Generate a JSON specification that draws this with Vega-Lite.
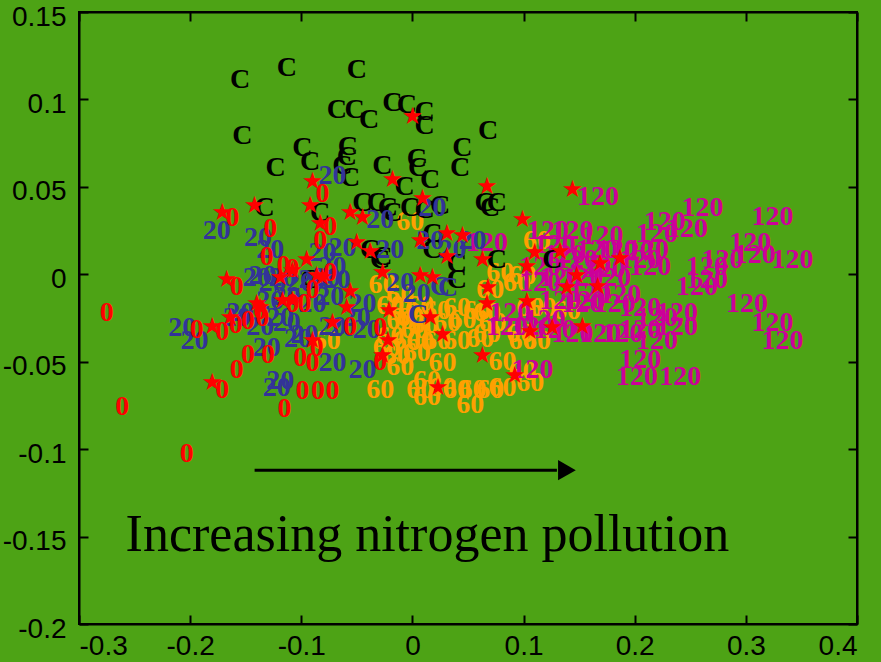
{
  "$schema": "https://vega.github.io/schema/vega-lite/v6.json",
  "width": 778,
  "height": 612,
  "autosize": "none",
  "padding": {"left": 79, "top": 12, "right": 24, "bottom": 38},
  "background": "#4da315",
  "config": {
    "view": {"stroke": "black", "strokeWidth": 2},
    "axis": {"domainColor": "black", "domainWidth": 2, "tickColor": "black", "tickWidth": 2, "tickSize": -9, "grid": false, "labelFont": "Liberation Sans", "labelFontSize": 28, "labelColor": "black", "title": null}
  },
  "data": {"values": [
      {"k": "t", "x": -0.002, "y": 0.030, "label": "60", "g": "60"},
      {"k": "t", "x": 0.112, "y": 0.019, "label": "60", "g": "60"},
      {"k": "t", "x": 0.099, "y": -0.001, "label": "60", "g": "60"},
      {"k": "t", "x": -0.027, "y": -0.006, "label": "60", "g": "60"},
      {"k": "t", "x": -0.011, "y": -0.012, "label": "60", "g": "60"},
      {"k": "t", "x": -0.020, "y": -0.018, "label": "60", "g": "60"},
      {"k": "t", "x": -0.007, "y": -0.021, "label": "60", "g": "60"},
      {"k": "t", "x": 0.007, "y": -0.018, "label": "60", "g": "60"},
      {"k": "t", "x": 0.022, "y": -0.021, "label": "60", "g": "60"},
      {"k": "t", "x": 0.031, "y": -0.028, "label": "60", "g": "60"},
      {"k": "t", "x": 0.040, "y": -0.019, "label": "60", "g": "60"},
      {"k": "t", "x": 0.058, "y": -0.021, "label": "60", "g": "60"},
      {"k": "t", "x": 0.045, "y": -0.026, "label": "60", "g": "60"},
      {"k": "t", "x": -0.020, "y": -0.036, "label": "60", "g": "60"},
      {"k": "t", "x": -0.005, "y": -0.038, "label": "60", "g": "60"},
      {"k": "t", "x": 0.007, "y": -0.039, "label": "60", "g": "60"},
      {"k": "t", "x": 0.022, "y": -0.038, "label": "60", "g": "60"},
      {"k": "t", "x": 0.040, "y": -0.038, "label": "60", "g": "60"},
      {"k": "t", "x": 0.061, "y": -0.037, "label": "60", "g": "60"},
      {"k": "t", "x": 0.004, "y": -0.045, "label": "60", "g": "60"},
      {"k": "t", "x": -0.014, "y": -0.047, "label": "60", "g": "60"},
      {"k": "t", "x": -0.023, "y": -0.042, "label": "60", "g": "60"},
      {"k": "t", "x": 0.027, "y": -0.051, "label": "60", "g": "60"},
      {"k": "t", "x": -0.011, "y": -0.053, "label": "60", "g": "60"},
      {"k": "t", "x": 0.013, "y": -0.061, "label": "60", "g": "60"},
      {"k": "t", "x": 0.027, "y": -0.065, "label": "60", "g": "60"},
      {"k": "t", "x": 0.040, "y": -0.066, "label": "60", "g": "60"},
      {"k": "t", "x": 0.054, "y": -0.066, "label": "60", "g": "60"},
      {"k": "t", "x": 0.070, "y": -0.066, "label": "60", "g": "60"},
      {"k": "t", "x": 0.007, "y": -0.066, "label": "60", "g": "60"},
      {"k": "t", "x": 0.013, "y": -0.070, "label": "60", "g": "60"},
      {"k": "t", "x": 0.052, "y": -0.075, "label": "60", "g": "60"},
      {"k": "t", "x": 0.081, "y": -0.050, "label": "60", "g": "60"},
      {"k": "t", "x": 0.099, "y": -0.056, "label": "60", "g": "60"},
      {"k": "t", "x": 0.106, "y": -0.062, "label": "60", "g": "60"},
      {"k": "t", "x": -0.029, "y": -0.066, "label": "60", "g": "60"},
      {"k": "t", "x": -0.077, "y": -0.038, "label": "60", "g": "60"},
      {"k": "t", "x": 0.067, "y": -0.022, "label": "60", "g": "60"},
      {"k": "t", "x": 0.072, "y": -0.028, "label": "60", "g": "60"},
      {"k": "t", "x": 0.067, "y": -0.034, "label": "60", "g": "60"},
      {"k": "t", "x": 0.106, "y": -0.019, "label": "60", "g": "60"},
      {"k": "t", "x": 0.117, "y": -0.019, "label": "60", "g": "60"},
      {"k": "t", "x": 0.139, "y": -0.021, "label": "60", "g": "60"},
      {"k": "t", "x": 0.099, "y": -0.038, "label": "60", "g": "60"},
      {"k": "t", "x": 0.112, "y": -0.038, "label": "60", "g": "60"},
      {"k": "t", "x": 0.081, "y": -0.065, "label": "60", "g": "60"},
      {"k": "t", "x": 0.094, "y": -0.005, "label": "60", "g": "60"},
      {"k": "t", "x": 0.097, "y": -0.034, "label": "60", "g": "60"},
      {"k": "t", "x": 0.079, "y": 0.001, "label": "60", "g": "60"},
      {"k": "t", "x": 0.070, "y": -0.009, "label": "60", "g": "60"},
      {"k": "t", "x": -0.002, "y": -0.025, "label": "60", "g": "60"},
      {"k": "t", "x": 0.011, "y": -0.029, "label": "60", "g": "60"},
      {"k": "t", "x": 0.002, "y": -0.032, "label": "60", "g": "60"},
      {"k": "t", "x": -0.011, "y": -0.027, "label": "60", "g": "60"},
      {"k": "t", "x": 0.167, "y": 0.044, "label": "120", "g": "120"},
      {"k": "t", "x": 0.261, "y": 0.038, "label": "120", "g": "120"},
      {"k": "t", "x": 0.324, "y": 0.033, "label": "120", "g": "120"},
      {"k": "t", "x": 0.227, "y": 0.030, "label": "120", "g": "120"},
      {"k": "t", "x": 0.247, "y": 0.026, "label": "120", "g": "120"},
      {"k": "t", "x": 0.122, "y": 0.025, "label": "120", "g": "120"},
      {"k": "t", "x": 0.144, "y": 0.025, "label": "120", "g": "120"},
      {"k": "t", "x": 0.171, "y": 0.022, "label": "120", "g": "120"},
      {"k": "t", "x": 0.220, "y": 0.023, "label": "120", "g": "120"},
      {"k": "t", "x": 0.304, "y": 0.018, "label": "120", "g": "120"},
      {"k": "t", "x": 0.212, "y": 0.014, "label": "120", "g": "120"},
      {"k": "t", "x": 0.198, "y": 0.013, "label": "120", "g": "120"},
      {"k": "t", "x": 0.279, "y": 0.008, "label": "120", "g": "120"},
      {"k": "t", "x": 0.308, "y": 0.011, "label": "120", "g": "120"},
      {"k": "t", "x": 0.342, "y": 0.008, "label": "120", "g": "120"},
      {"k": "t", "x": 0.214, "y": 0.004, "label": "120", "g": "120"},
      {"k": "t", "x": 0.148, "y": 0.008, "label": "120", "g": "120"},
      {"k": "t", "x": 0.166, "y": 0.014, "label": "120", "g": "120"},
      {"k": "t", "x": 0.184, "y": 0.014, "label": "120", "g": "120"},
      {"k": "t", "x": 0.265, "y": 0.004, "label": "120", "g": "120"},
      {"k": "t", "x": 0.205, "y": 0.008, "label": "120", "g": "120"},
      {"k": "t", "x": 0.178, "y": -0.002, "label": "120", "g": "120"},
      {"k": "t", "x": 0.153, "y": -0.002, "label": "120", "g": "120"},
      {"k": "t", "x": 0.133, "y": -0.002, "label": "120", "g": "120"},
      {"k": "t", "x": 0.115, "y": 0.004, "label": "120", "g": "120"},
      {"k": "t", "x": 0.265, "y": -0.003, "label": "120", "g": "120"},
      {"k": "t", "x": 0.256, "y": -0.007, "label": "120", "g": "120"},
      {"k": "t", "x": 0.301, "y": -0.017, "label": "120", "g": "120"},
      {"k": "t", "x": 0.115, "y": -0.005, "label": "120", "g": "120"},
      {"k": "t", "x": 0.160, "y": -0.011, "label": "120", "g": "120"},
      {"k": "t", "x": 0.153, "y": -0.017, "label": "120", "g": "120"},
      {"k": "t", "x": 0.182, "y": -0.017, "label": "120", "g": "120"},
      {"k": "t", "x": 0.205, "y": -0.019, "label": "120", "g": "120"},
      {"k": "t", "x": 0.238, "y": -0.022, "label": "120", "g": "120"},
      {"k": "t", "x": 0.220, "y": -0.025, "label": "120", "g": "120"},
      {"k": "t", "x": 0.238, "y": -0.030, "label": "120", "g": "120"},
      {"k": "t", "x": 0.205, "y": -0.032, "label": "120", "g": "120"},
      {"k": "t", "x": 0.169, "y": -0.034, "label": "120", "g": "120"},
      {"k": "t", "x": 0.189, "y": -0.034, "label": "120", "g": "120"},
      {"k": "t", "x": 0.144, "y": -0.034, "label": "120", "g": "120"},
      {"k": "t", "x": 0.220, "y": -0.038, "label": "120", "g": "120"},
      {"k": "t", "x": 0.324, "y": -0.028, "label": "120", "g": "120"},
      {"k": "t", "x": 0.333, "y": -0.038, "label": "120", "g": "120"},
      {"k": "t", "x": 0.085, "y": -0.030, "label": "120", "g": "120"},
      {"k": "t", "x": 0.108, "y": -0.030, "label": "120", "g": "120"},
      {"k": "t", "x": 0.205, "y": -0.049, "label": "120", "g": "120"},
      {"k": "t", "x": 0.202, "y": -0.059, "label": "120", "g": "120"},
      {"k": "t", "x": 0.241, "y": -0.059, "label": "120", "g": "120"},
      {"k": "t", "x": 0.108, "y": -0.055, "label": "120", "g": "120"},
      {"k": "t", "x": 0.128, "y": 0.017, "label": "120", "g": "120"},
      {"k": "t", "x": 0.137, "y": 0.011, "label": "120", "g": "120"},
      {"k": "t", "x": 0.160, "y": 0.005, "label": "120", "g": "120"},
      {"k": "t", "x": 0.173, "y": 0.003, "label": "120", "g": "120"},
      {"k": "t", "x": 0.155, "y": -0.015, "label": "120", "g": "120"},
      {"k": "t", "x": 0.133, "y": -0.015, "label": "120", "g": "120"},
      {"k": "t", "x": 0.187, "y": -0.012, "label": "120", "g": "120"},
      {"k": "t", "x": 0.119, "y": -0.026, "label": "120", "g": "120"},
      {"k": "t", "x": 0.128, "y": -0.032, "label": "120", "g": "120"},
      {"k": "t", "x": 0.067, "y": 0.018, "label": "120", "g": "120"},
      {"k": "t", "x": 0.088, "y": -0.022, "label": "120", "g": "120"},
      {"k": "t", "x": -0.155, "y": 0.111, "label": "C", "g": "C"},
      {"k": "t", "x": -0.113, "y": 0.118, "label": "C", "g": "C"},
      {"k": "t", "x": -0.050, "y": 0.117, "label": "C", "g": "C"},
      {"k": "t", "x": -0.153, "y": 0.079, "label": "C", "g": "C"},
      {"k": "t", "x": -0.068, "y": 0.094, "label": "C", "g": "C"},
      {"k": "t", "x": -0.052, "y": 0.094, "label": "C", "g": "C"},
      {"k": "t", "x": -0.039, "y": 0.088, "label": "C", "g": "C"},
      {"k": "t", "x": -0.018, "y": 0.098, "label": "C", "g": "C"},
      {"k": "t", "x": -0.005, "y": 0.097, "label": "C", "g": "C"},
      {"k": "t", "x": 0.011, "y": 0.093, "label": "C", "g": "C"},
      {"k": "t", "x": 0.011, "y": 0.085, "label": "C", "g": "C"},
      {"k": "t", "x": 0.068, "y": 0.082, "label": "C", "g": "C"},
      {"k": "t", "x": -0.099, "y": 0.072, "label": "C", "g": "C"},
      {"k": "t", "x": -0.092, "y": 0.064, "label": "C", "g": "C"},
      {"k": "t", "x": -0.123, "y": 0.061, "label": "C", "g": "C"},
      {"k": "t", "x": -0.058, "y": 0.073, "label": "C", "g": "C"},
      {"k": "t", "x": -0.059, "y": 0.067, "label": "C", "g": "C"},
      {"k": "t", "x": -0.063, "y": 0.062, "label": "C", "g": "C"},
      {"k": "t", "x": -0.056, "y": 0.055, "label": "C", "g": "C"},
      {"k": "t", "x": -0.027, "y": 0.062, "label": "C", "g": "C"},
      {"k": "t", "x": 0.004, "y": 0.066, "label": "C", "g": "C"},
      {"k": "t", "x": 0.005, "y": 0.061, "label": "C", "g": "C"},
      {"k": "t", "x": 0.016, "y": 0.054, "label": "C", "g": "C"},
      {"k": "t", "x": 0.045, "y": 0.072, "label": "C", "g": "C"},
      {"k": "t", "x": 0.043, "y": 0.061, "label": "C", "g": "C"},
      {"k": "t", "x": -0.007, "y": 0.050, "label": "C", "g": "C"},
      {"k": "t", "x": -0.045, "y": 0.041, "label": "C", "g": "C"},
      {"k": "t", "x": -0.032, "y": 0.041, "label": "C", "g": "C"},
      {"k": "t", "x": -0.022, "y": 0.038, "label": "C", "g": "C"},
      {"k": "t", "x": -0.018, "y": 0.035, "label": "C", "g": "C"},
      {"k": "t", "x": -0.002, "y": 0.038, "label": "C", "g": "C"},
      {"k": "t", "x": 0.011, "y": 0.037, "label": "C", "g": "C"},
      {"k": "t", "x": 0.025, "y": 0.039, "label": "C", "g": "C"},
      {"k": "t", "x": 0.065, "y": 0.041, "label": "C", "g": "C"},
      {"k": "t", "x": 0.070, "y": 0.038, "label": "C", "g": "C"},
      {"k": "t", "x": 0.076, "y": 0.041, "label": "C", "g": "C"},
      {"k": "t", "x": -0.133, "y": 0.038, "label": "C", "g": "C"},
      {"k": "t", "x": -0.083, "y": 0.035, "label": "C", "g": "C"},
      {"k": "t", "x": -0.038, "y": 0.014, "label": "C", "g": "C"},
      {"k": "t", "x": -0.027, "y": 0.010, "label": "C", "g": "C"},
      {"k": "t", "x": 0.018, "y": 0.023, "label": "C", "g": "C"},
      {"k": "t", "x": 0.018, "y": 0.014, "label": "C", "g": "C"},
      {"k": "t", "x": 0.040, "y": 0.006, "label": "C", "g": "C"},
      {"k": "t", "x": 0.040, "y": -0.003, "label": "C", "g": "C"},
      {"k": "t", "x": 0.076, "y": 0.008, "label": "C", "g": "C"},
      {"k": "t", "x": 0.126, "y": 0.008, "label": "C", "g": "C"},
      {"k": "t", "x": -0.092, "y": -0.003, "label": "C", "g": "C"},
      {"k": "t", "x": -0.029, "y": 0.008, "label": "C", "g": "C"},
      {"k": "t", "x": 0.005, "y": -0.023, "label": "C", "g": "20"},
      {"k": "t", "x": 0.025, "y": -0.007, "label": "C", "g": "20"},
      {"k": "t", "x": 0.032, "y": -0.008, "label": "C", "g": "20"},
      {"k": "t", "x": -0.176, "y": 0.025, "label": "20", "g": "20"},
      {"k": "t", "x": -0.139, "y": 0.021, "label": "20", "g": "20"},
      {"k": "t", "x": -0.128, "y": 0.014, "label": "20", "g": "20"},
      {"k": "t", "x": -0.072, "y": 0.056, "label": "20", "g": "20"},
      {"k": "t", "x": -0.135, "y": -0.001, "label": "20", "g": "20"},
      {"k": "t", "x": -0.126, "y": -0.005, "label": "20", "g": "20"},
      {"k": "t", "x": -0.140, "y": -0.002, "label": "20", "g": "20"},
      {"k": "t", "x": -0.117, "y": -0.002, "label": "20", "g": "20"},
      {"k": "t", "x": -0.101, "y": -0.005, "label": "20", "g": "20"},
      {"k": "t", "x": -0.090, "y": -0.003, "label": "20", "g": "20"},
      {"k": "t", "x": -0.077, "y": -0.002, "label": "20", "g": "20"},
      {"k": "t", "x": -0.068, "y": -0.003, "label": "20", "g": "20"},
      {"k": "t", "x": -0.128, "y": -0.015, "label": "20", "g": "20"},
      {"k": "t", "x": -0.113, "y": -0.013, "label": "20", "g": "20"},
      {"k": "t", "x": -0.090, "y": -0.017, "label": "20", "g": "20"},
      {"k": "t", "x": -0.074, "y": -0.013, "label": "20", "g": "20"},
      {"k": "t", "x": -0.158, "y": -0.025, "label": "20", "g": "20"},
      {"k": "t", "x": -0.137, "y": -0.030, "label": "20", "g": "20"},
      {"k": "t", "x": -0.119, "y": -0.025, "label": "20", "g": "20"},
      {"k": "t", "x": -0.113, "y": -0.028, "label": "20", "g": "20"},
      {"k": "t", "x": -0.207, "y": -0.031, "label": "20", "g": "20"},
      {"k": "t", "x": -0.196, "y": -0.038, "label": "20", "g": "20"},
      {"k": "t", "x": -0.131, "y": -0.042, "label": "20", "g": "20"},
      {"k": "t", "x": -0.119, "y": -0.061, "label": "20", "g": "20"},
      {"k": "t", "x": -0.122, "y": -0.065, "label": "20", "g": "20"},
      {"k": "t", "x": -0.097, "y": -0.035, "label": "20", "g": "20"},
      {"k": "t", "x": -0.072, "y": -0.051, "label": "20", "g": "20"},
      {"k": "t", "x": -0.081, "y": 0.012, "label": "20", "g": "20"},
      {"k": "t", "x": -0.072, "y": 0.004, "label": "20", "g": "20"},
      {"k": "t", "x": -0.029, "y": 0.031, "label": "20", "g": "20"},
      {"k": "t", "x": -0.020, "y": 0.014, "label": "20", "g": "20"},
      {"k": "t", "x": -0.063, "y": 0.015, "label": "20", "g": "20"},
      {"k": "t", "x": 0.018, "y": 0.038, "label": "20", "g": "20"},
      {"k": "t", "x": 0.016, "y": 0.019, "label": "20", "g": "20"},
      {"k": "t", "x": 0.036, "y": 0.014, "label": "20", "g": "20"},
      {"k": "t", "x": 0.054, "y": 0.019, "label": "20", "g": "20"},
      {"k": "t", "x": -0.011, "y": -0.005, "label": "20", "g": "20"},
      {"k": "t", "x": 0.004, "y": -0.011, "label": "20", "g": "20"},
      {"k": "t", "x": -0.045, "y": -0.017, "label": "20", "g": "20"},
      {"k": "t", "x": -0.050, "y": -0.025, "label": "20", "g": "20"},
      {"k": "t", "x": -0.063, "y": -0.031, "label": "20", "g": "20"},
      {"k": "t", "x": -0.041, "y": -0.032, "label": "20", "g": "20"},
      {"k": "t", "x": -0.045, "y": -0.055, "label": "20", "g": "20"},
      {"k": "t", "x": -0.072, "y": -0.030, "label": "20", "g": "20"},
      {"k": "t", "x": -0.155, "y": -0.022, "label": "20", "g": "20"},
      {"k": "t", "x": -0.103, "y": -0.037, "label": "20", "g": "20"},
      {"k": "t", "x": -0.275, "y": -0.022, "label": "0", "g": "0"},
      {"k": "t", "x": -0.261, "y": -0.076, "label": "0", "g": "0"},
      {"k": "t", "x": -0.203, "y": -0.103, "label": "0", "g": "0"},
      {"k": "t", "x": -0.162, "y": 0.032, "label": "0", "g": "0"},
      {"k": "t", "x": -0.128, "y": 0.026, "label": "0", "g": "0"},
      {"k": "t", "x": -0.131, "y": 0.010, "label": "0", "g": "0"},
      {"k": "t", "x": -0.116, "y": 0.005, "label": "0", "g": "0"},
      {"k": "t", "x": -0.158, "y": -0.007, "label": "0", "g": "0"},
      {"k": "t", "x": -0.194, "y": -0.032, "label": "0", "g": "0"},
      {"k": "t", "x": -0.171, "y": -0.033, "label": "0", "g": "0"},
      {"k": "t", "x": -0.159, "y": -0.029, "label": "0", "g": "0"},
      {"k": "t", "x": -0.148, "y": -0.027, "label": "0", "g": "0"},
      {"k": "t", "x": -0.135, "y": -0.025, "label": "0", "g": "0"},
      {"k": "t", "x": -0.148, "y": -0.046, "label": "0", "g": "0"},
      {"k": "t", "x": -0.130, "y": -0.046, "label": "0", "g": "0"},
      {"k": "t", "x": -0.158, "y": -0.055, "label": "0", "g": "0"},
      {"k": "t", "x": -0.171, "y": -0.066, "label": "0", "g": "0"},
      {"k": "t", "x": -0.101, "y": -0.048, "label": "0", "g": "0"},
      {"k": "t", "x": -0.090, "y": -0.051, "label": "0", "g": "0"},
      {"k": "t", "x": -0.099, "y": -0.067, "label": "0", "g": "0"},
      {"k": "t", "x": -0.085, "y": -0.067, "label": "0", "g": "0"},
      {"k": "t", "x": -0.072, "y": -0.067, "label": "0", "g": "0"},
      {"k": "t", "x": -0.115, "y": -0.077, "label": "0", "g": "0"},
      {"k": "t", "x": -0.081, "y": 0.046, "label": "0", "g": "0"},
      {"k": "t", "x": -0.074, "y": 0.027, "label": "0", "g": "0"},
      {"k": "t", "x": -0.074, "y": 0.001, "label": "0", "g": "0"},
      {"k": "t", "x": -0.108, "y": -0.017, "label": "0", "g": "0"},
      {"k": "t", "x": -0.097, "y": -0.017, "label": "0", "g": "0"},
      {"k": "t", "x": -0.090, "y": -0.009, "label": "0", "g": "0"},
      {"k": "t", "x": -0.086, "y": -0.042, "label": "0", "g": "0"},
      {"k": "t", "x": -0.056, "y": -0.030, "label": "0", "g": "0"},
      {"k": "t", "x": -0.029, "y": -0.031, "label": "0", "g": "0"},
      {"k": "t", "x": -0.029, "y": -0.050, "label": "0", "g": "0"},
      {"k": "t", "x": -0.137, "y": -0.021, "label": "0", "g": "0"},
      {"k": "t", "x": -0.108, "y": 0.003, "label": "0", "g": "0"},
      {"k": "t", "x": -0.083, "y": 0.019, "label": "0", "g": "0"},
      {"k": "s", "x": 0.000, "y": 0.090}, {"k": "s", "x": -0.018, "y": 0.054}, {"k": "s", "x": -0.090, "y": 0.053},
      {"k": "s", "x": -0.171, "y": 0.035}, {"k": "s", "x": -0.142, "y": 0.039}, {"k": "s", "x": -0.092, "y": 0.039},
      {"k": "s", "x": -0.083, "y": 0.029}, {"k": "s", "x": -0.056, "y": 0.035}, {"k": "s", "x": -0.045, "y": 0.032},
      {"k": "s", "x": 0.009, "y": 0.043}, {"k": "s", "x": 0.067, "y": 0.050}, {"k": "s", "x": 0.007, "y": 0.019},
      {"k": "s", "x": 0.031, "y": 0.023}, {"k": "s", "x": 0.045, "y": 0.022}, {"k": "s", "x": -0.167, "y": -0.003},
      {"k": "s", "x": -0.140, "y": -0.017}, {"k": "s", "x": -0.164, "y": -0.025}, {"k": "s", "x": -0.180, "y": -0.030},
      {"k": "s", "x": -0.180, "y": -0.062}, {"k": "s", "x": -0.119, "y": -0.002}, {"k": "s", "x": -0.108, "y": 0.002},
      {"k": "s", "x": -0.117, "y": -0.015}, {"k": "s", "x": -0.108, "y": -0.015}, {"k": "s", "x": -0.090, "y": -0.038},
      {"k": "s", "x": -0.072, "y": -0.028}, {"k": "s", "x": -0.050, "y": 0.018}, {"k": "s", "x": -0.038, "y": 0.013},
      {"k": "s", "x": -0.027, "y": 0.001}, {"k": "s", "x": 0.007, "y": -0.001}, {"k": "s", "x": 0.018, "y": -0.002},
      {"k": "s", "x": 0.031, "y": 0.010}, {"k": "s", "x": 0.063, "y": 0.008}, {"k": "s", "x": 0.099, "y": 0.031},
      {"k": "s", "x": 0.110, "y": 0.012}, {"k": "s", "x": 0.103, "y": 0.004}, {"k": "s", "x": 0.068, "y": -0.008},
      {"k": "s", "x": 0.067, "y": -0.017}, {"k": "s", "x": 0.103, "y": -0.016}, {"k": "s", "x": 0.106, "y": -0.033},
      {"k": "s", "x": 0.092, "y": -0.058}, {"k": "s", "x": 0.063, "y": -0.047}, {"k": "s", "x": 0.027, "y": -0.035},
      {"k": "s", "x": 0.023, "y": -0.065}, {"k": "s", "x": 0.016, "y": -0.025}, {"k": "s", "x": -0.021, "y": -0.021},
      {"k": "s", "x": -0.022, "y": -0.038}, {"k": "s", "x": -0.027, "y": -0.047}, {"k": "s", "x": -0.056, "y": -0.010},
      {"k": "s", "x": -0.059, "y": -0.019}, {"k": "s", "x": -0.086, "y": -0.001}, {"k": "s", "x": -0.137, "y": -0.019},
      {"k": "s", "x": -0.095, "y": 0.008}, {"k": "s", "x": 0.144, "y": 0.048}, {"k": "s", "x": 0.133, "y": 0.013},
      {"k": "s", "x": 0.148, "y": -0.001}, {"k": "s", "x": 0.169, "y": 0.006}, {"k": "s", "x": 0.187, "y": 0.009},
      {"k": "s", "x": 0.139, "y": -0.008}, {"k": "s", "x": 0.167, "y": -0.007}, {"k": "s", "x": 0.126, "y": -0.031},
      {"k": "s", "x": 0.153, "y": -0.030}, {"k": "s", "x": -0.081, "y": -0.002},
      {"k": "a", "x": -0.142, "x2": 0.130, "y": -0.112},
      {"k": "h", "x": 0.139, "y": -0.112},
      {"k": "n", "x": 0.0135, "y": -0.158, "label": "Increasing nitrogen pollution"}
  ]},
  "resolve": {"axis": {"x": "independent", "y": "independent"}},
  "encoding": {
    "x": {"field": "x", "type": "quantitative", "scale": {"domain": [-0.3, 0.4], "nice": false, "zero": false}, "axis": null},
    "y": {"field": "y", "type": "quantitative", "scale": {"domain": [-0.2, 0.15], "nice": false, "zero": false}, "axis": null}
  },
  "layer": [
    {
      "transform": [{"filter": "datum.k == 't'"}],
      "mark": {"type": "text", "font": "Liberation Serif", "fontWeight": "bold", "fontSize": 28, "align": "center", "baseline": "middle"},
      "encoding": {
        "x": {"field": "x", "type": "quantitative",
              "axis": {"orient": "bottom", "values": [-0.3, -0.2, -0.1, 0, 0.1, 0.2, 0.3, 0.4], "labelPadding": 17, "labelExpr": "(datum.value < 0 ? '-' : '') + format(abs(datum.value), '')"}},
        "y": {"field": "y", "type": "quantitative",
              "axis": {"orient": "left", "values": [-0.2, -0.15, -0.1, -0.05, 0, 0.05, 0.1, 0.15], "labelPadding": 22, "labelOffset": 5, "labelExpr": "(datum.value < 0 ? '-' : '') + format(abs(datum.value), '')"}},
        "text": {"field": "label"},
        "color": {"field": "g", "type": "nominal", "legend": null,
                  "scale": {"domain": ["C", "0", "20", "60", "120"], "range": ["#000000", "#ff0000", "#333399", "#ffa000", "#cc0099"]}}
      }
    },
    {
      "transform": [{"filter": "datum.k == 's'"}],
      "mark": {"type": "text", "text": "★", "font": "DejaVu Sans", "fontSize": 24, "align": "center", "baseline": "middle", "color": "#ff0000"},
      "encoding": {
        "x": {"field": "x", "type": "quantitative",
              "axis": {"orient": "top", "values": [-0.3, -0.2, -0.1, 0, 0.1, 0.2, 0.3, 0.4], "labels": false}},
        "y": {"field": "y", "type": "quantitative",
              "axis": {"orient": "right", "values": [-0.2, -0.15, -0.1, -0.05, 0, 0.05, 0.1, 0.15], "labels": false}}
      }
    },
    {
      "transform": [{"filter": "datum.k == 'n'"}],
      "mark": {"type": "text", "font": "Liberation Serif", "fontSize": 52, "align": "center", "baseline": "alphabetic", "color": "black"},
      "encoding": {"text": {"field": "label"}}
    },
    {
      "transform": [{"filter": "datum.k == 'a'"}],
      "mark": {"type": "rule", "color": "black", "strokeWidth": 3},
      "encoding": {"x2": {"field": "x2"}}
    },
    {
      "transform": [{"filter": "datum.k == 'h'"}],
      "mark": {"type": "point", "shape": "triangle-right", "filled": true, "color": "black", "size": 420, "opacity": 1},
      "encoding": {}
    }
  ]
}
